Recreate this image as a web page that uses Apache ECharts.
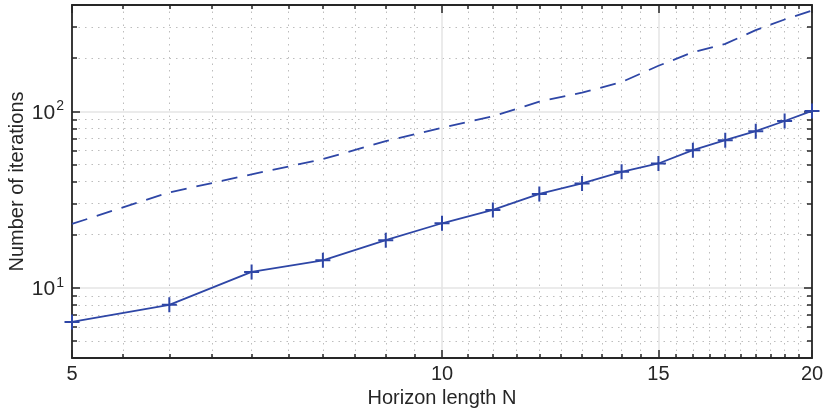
<!DOCTYPE html>
<html><head><meta charset="utf-8">
<script src="https://cdn.jsdelivr.net/npm/echarts@6/dist/echarts.min.js"></script>
<style>html,body{margin:0;padding:0;background:#fff}#c{width:826px;height:410px}</style>
</head><body><div id="c"></div>
<script>
// ---- data ----
const horizonN = [5,6,7,8,9,10,11,12,13,14,15,16,17,18,19,20];
const itersSolid = [6.4,8.0,12.3,14.3,18.6,23.2,27.6,34.0,39.0,45.4,50.6,60.2,68.6,77.1,88.1,100.4];
const itersDashed = [23.0,34.7,43.9,53.6,67.7,80.5,93.7,113.4,127.5,146.4,181,216,241,288,331,372];
// ---- ticks ----
const xMajorTicks = [5,10,15,20];
const xMinorTicks = [5.5,6,6.5,7,7.5,8,8.5,9,9.5,10.5,11,11.5,12,12.5,13,13.5,14,14.5,15.5,16,16.5,17,17.5,18,18.5,19,19.5];
const yMajorTicks = [10,100];
const yMajorExponents = ['1','2'];
const yMinorTicks = [5,6,7,8,9,20,30,40,50,60,70,80,90,200,300];

const font = '"Liberation Sans", Arial, Helvetica, sans-serif';
const ink = '#262626';
const blue = '#2e46a6';
const xMin = 5, xMax = 20, yMin = 4, yMax = 400;

function axis(dim, pos, ticks, len, opts) {
  const a = {
    type: 'log', position: pos, min: dim === 'x' ? xMin : yMin, max: dim === 'x' ? xMax : yMax,
    axisLine: { show: !!opts.line, onZero: false, lineStyle: { color: ink, width: 1.8 } },
    axisTick: { show: true, inside: true, length: len, customValues: ticks, lineStyle: { color: ink, width: 1.5 } },
    axisLabel: { show: false },
    splitLine: { show: false },
    minorTick: { show: false }, minorSplitLine: { show: false }
  };
  return Object.assign(a, opts.extra || {});
}

const chart = echarts.init(document.getElementById('c'), null, { renderer: 'canvas' });
chart.setOption({
  animation: false,
  backgroundColor: '#fff',
  grid: { left: 72, right: 14, top: 5, bottom: 52, containLabel: false, outerBoundsMode: 'none' },
  xAxis: [
    axis('x', 'bottom', xMajorTicks, 8, { line: true, extra: {
      axisLabel: { show: true, customValues: xMajorTicks, margin: 6, fontSize: 20, color: ink, fontFamily: font,
        formatter: v => String(Math.round(v)) },
      splitLine: { show: true, lineStyle: { color: '#e4e4e4', width: 1.5 } },
      name: 'Horizon length N', nameLocation: 'middle', nameGap: 28,
      nameTextStyle: { fontSize: 20, color: ink, fontFamily: font }
    }}),
    axis('x', 'bottom', xMinorTicks, 4, { line: false, extra: {
      splitLine: { show: true, lineStyle: { color: '#bdbdbd', width: 1, type: [1.5, 5] } }
    }}),
    axis('x', 'top', xMajorTicks, 8, { line: true }),
    axis('x', 'top', xMinorTicks, 4, { line: false })
  ],
  yAxis: [
    axis('y', 'left', yMajorTicks, 8, { line: true, extra: {
      axisLabel: { show: true, customValues: yMajorTicks, margin: 8, color: ink, fontFamily: font,
        formatter: v => '{b|10}{s|' + yMajorExponents[yMajorTicks.indexOf(Math.round(v))] + '}',
        rich: {
          b: { fontSize: 21, color: ink, fontFamily: font, lineHeight: 24, verticalAlign: 'bottom' },
          s: { fontSize: 14, color: ink, fontFamily: font, lineHeight: 24, verticalAlign: 'top', padding: [0,0,8,1] }
        } },
      splitLine: { show: true, lineStyle: { color: '#e4e4e4', width: 1.5 } },
      name: 'Number of iterations', nameLocation: 'middle', nameGap: 45, nameMoveOverlap: false,
      nameTextStyle: { fontSize: 20, color: ink, fontFamily: font }
    }}),
    axis('y', 'left', yMinorTicks, 5, { line: false, extra: {
      splitLine: { show: true, lineStyle: { color: '#bdbdbd', width: 1, type: [1.5, 5] } }
    }}),
    axis('y', 'right', yMajorTicks, 8, { line: true }),
    axis('y', 'right', yMinorTicks, 5, { line: false })
  ],
  series: [
    {
      type: 'line', xAxisIndex: 0, yAxisIndex: 0, clip: false,
      data: horizonN.map((n, i) => [n, itersDashed[i]]),
      symbol: 'none',
      lineStyle: { color: blue, width: 1.8, type: [16, 10] },
      z: 3
    },
    {
      type: 'line', xAxisIndex: 0, yAxisIndex: 0, clip: false,
      data: horizonN.map((n, i) => [n, itersSolid[i]]),
      symbol: 'path://M5,0L5,10M0,5L10,5', symbolSize: 15,
      itemStyle: { color: blue, borderColor: blue, borderWidth: 2 },
      lineStyle: { color: blue, width: 1.8 },
      z: 4
    }
  ]
});
</script>
</body></html>
